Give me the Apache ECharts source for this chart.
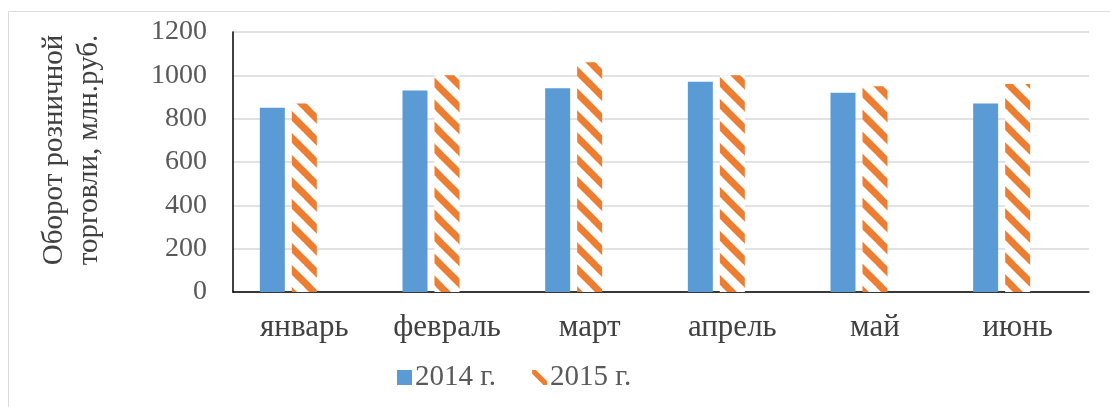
<!DOCTYPE html>
<html>
<head>
<meta charset="utf-8">
<script src="https://cdn.jsdelivr.net/npm/echarts@6/dist/echarts.min.js"></script>
<style>html,body{margin:0;padding:0;background:#fff;}#c{width:1110px;height:407px;}</style>
</head>
<body>
<div id="c"></div>
<script>
const categories = ['январь', 'февраль', 'март', 'апрель', 'май', 'июнь'];
const values2014 = [850, 930, 940, 970, 920, 870];
const values2015 = [870, 1000, 1060, 1000, 950, 960];
const seriesNames = ['2014 г.', '2015 г.'];
const yAxisTitle = 'Оборот розничной\nторговли, млн.руб.';

const FONT = '"Liberation Serif", "DejaVu Serif", serif';
const BLUE = '#5B9BD5';
const ORANGE = '#ED7D31';

function stripePattern() {
  const s = 22;
  const cv = document.createElement('canvas');
  cv.width = s; cv.height = s;
  const ctx = cv.getContext('2d');
  ctx.fillStyle = '#fff';
  ctx.fillRect(0, 0, s, s);
  ctx.strokeStyle = ORANGE;
  ctx.lineWidth = 7;
  for (let k = -1; k <= 1; k++) {
    ctx.beginPath();
    ctx.moveTo(k * s - 2, -2);
    ctx.lineTo(k * s + s + 2, s + 2);
    ctx.stroke();
  }
  return cv;
}

const chart = echarts.init(document.getElementById('c'), null, {renderer: 'canvas'});
chart.setOption({
  animation: false,
  backgroundColor: '#fff',
  grid: {left: 233, top: 32, right: 21, bottom: 115, containLabel: false},
  xAxis: {
    type: 'category',
    data: categories,
    axisLine: {show: true, lineStyle: {color: '#000', width: 1.5}},
    axisTick: {show: false},
    axisLabel: {color: '#404040', fontFamily: FONT, fontSize: 31, margin: 20, interval: 0, hideOverlap: false}
  },
  yAxis: {
    type: 'value',
    min: 0, max: 1200, interval: 200,
    axisLine: {show: true, lineStyle: {color: '#000', width: 1.5}},
    axisTick: {show: false},
    splitLine: {lineStyle: {color: '#d9d9d9', width: 1.5}},
    axisLabel: {color: '#595959', fontFamily: FONT, fontSize: 28, margin: 26, formatter: v => String(v)}
  },
  legend: {
    left: 392, top: 358,
    itemWidth: 15, itemHeight: 15, itemGap: 36,
    textStyle: {color: '#595959', fontFamily: FONT, fontSize: 29, padding: [0, 0, 0, -2]},
    data: [
      {name: seriesNames[0], icon: 'rect', itemStyle: {color: BLUE}},
      {name: seriesNames[1], icon: 'path://M0,0 L4,0 L16,12 L16,16 L12,16 L0,4 Z', itemStyle: {color: ORANGE}}
    ]
  },
  graphic: [
    {type: 'rect', shape: {x: 8.5, y: 11.5, width: 1120, height: 420}, style: {fill: 'none', stroke: '#d9d9d9', lineWidth: 1}, silent: true},
    {type: 'text', x: 72, y: 150, rotation: Math.PI / 2,
     style: {text: yAxisTitle, font: '29px ' + FONT, fill: '#404040', align: 'center', verticalAlign: 'middle', lineHeight: 35}}
  ],
  series: [
    {name: seriesNames[0], type: 'bar', data: values2014, barWidth: 25, barGap: '28%', itemStyle: {color: BLUE}},
    {name: seriesNames[1], type: 'bar', data: values2015, barWidth: 25, barGap: '28%', itemStyle: {color: {image: stripePattern(), repeat: 'repeat'}}},
    {name: '_', type: 'bar', data: categories.map(() => '-'), barWidth: 25, barGap: '28%'}
  ]
});
</script>
</body>
</html>
